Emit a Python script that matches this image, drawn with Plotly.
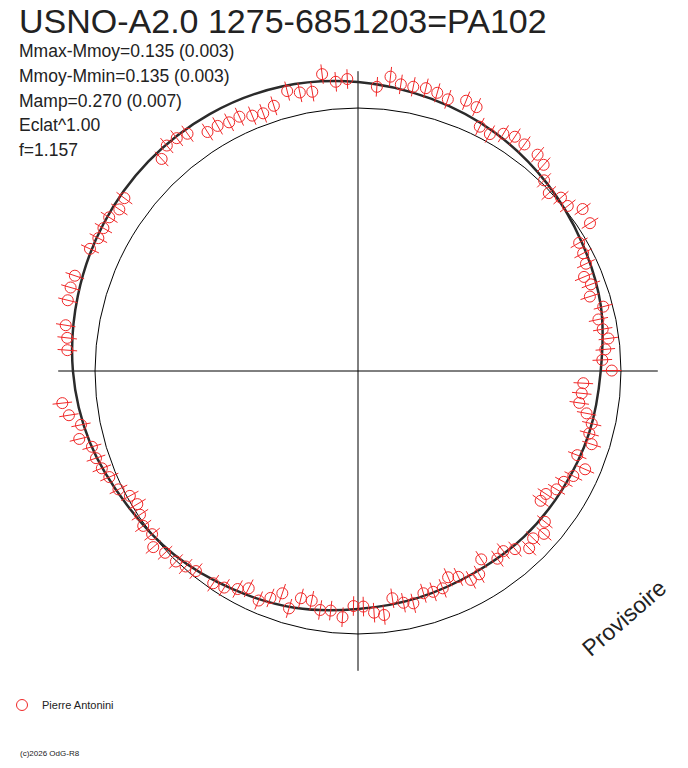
import plotly.graph_objects as go

# polar light curve of USNO-A2.0 1275-6851203 (phase clockwise from top, radius = relative flux)
title = "USNO-A2.0 1275-6851203=PA102"
stats = ["Mmax-Mmoy=0.135 (0.003)", "Mmoy-Mmin=0.135 (0.003)",
         "Mamp=0.270 (0.007)", "Eclat^1.00", "f=1.157"]
observer = "Pierre Antonini"

# observations: phase angle (deg) and relative flux
phase_deg = [0.3, 3.8, 6.3, 8.5, 11.0, 13.5, 15.9, 18.3, 21.8, 24.2,
             26.5, 29.1, 31.5, 33.8, 36.3, 39.7, 42.0, 44.3, 47.0, 49.5,
             51.8, 54.2, 57.5, 59.9, 62.4, 64.8, 67.4, 69.6, 72.2, 75.3,
             77.9, 80.3, 82.6, 85.0, 87.4, 89.9, 93.1, 95.7, 98.2, 100.5,
             102.7, 105.1, 107.4, 111.0, 113.4, 116.0, 118.3, 120.8, 123.2, 125.4,
             128.9, 131.2, 133.7, 136.0, 138.6, 141.1, 143.4, 146.8, 149.2, 151.6,
             154.0, 156.4, 158.7, 161.2, 163.6, 166.6, 168.9, 171.4, 173.9, 176.2,
             178.7, 181.1, 183.6, 186.5, 189.0, 191.4, 194.1, 196.2, 198.8, 201.1,
             203.4, 206.7, 208.9, 211.7, 214.3, 219.0, 221.4, 223.7, 226.7, 229.3,
             231.6, 234.2, 236.6, 238.9, 241.3, 243.7, 246.9, 249.2, 251.6, 254.1,
             256.3, 259.0, 261.3, 263.8, 274.1, 276.5, 278.9, 281.4, 283.7, 286.2,
             288.6, 294.5, 297.1, 299.3, 301.7, 304.1, 306.5, 309.9, 312.4, 314.7,
             317.2, 319.7, 322.1, 324.3, 327.8, 330.2, 332.6, 335.0, 337.5, 339.8,
             342.4, 345.8, 348.2, 350.7, 353.1, 355.6, 357.9]
rel_flux = [1.145, 1.083, 1.126, 1.102, 1.101, 1.106, 1.100, 1.088, 1.107, 1.100,
            1.038, 1.031, 1.058, 1.072, 1.069, 1.069, 1.055, 1.013, 0.992, 1.015,
            1.015, 1.053, 1.046, 0.972, 0.966, 0.958, 0.931, 0.945, 0.926, 0.964,
            0.935, 0.944, 0.960, 0.944, 0.930, 0.965, 0.858, 0.855, 0.850, 0.884,
            0.911, 0.911, 0.931, 0.893, 0.941, 0.911, 0.889, 0.879, 0.854, 0.852,
            0.913, 0.940, 0.921, 0.937, 0.903, 0.880, 0.889, 0.856, 0.900, 0.903,
            0.871, 0.856, 0.887, 0.887, 0.881, 0.908, 0.898, 0.874, 0.933, 0.921,
            0.896, 0.894, 0.938, 0.917, 0.920, 0.891, 0.891, 0.940, 0.893, 0.925,
            0.951, 0.925, 0.947, 0.968, 0.977, 0.979, 0.991, 1.002, 1.008, 1.027,
            0.999, 1.007, 0.993, 0.980, 0.989, 1.016, 1.028, 1.042, 1.050, 1.052,
            1.091, 1.073, 1.112, 1.131, 1.108, 1.113, 1.125, 1.153, 1.136, 1.138,
            1.136, 1.120, 1.109, 1.110, 1.112, 1.096, 1.105, 1.167, 1.143, 1.149,
            1.099, 1.124, 1.122, 1.111, 1.074, 1.074, 1.065, 1.067, 1.051, 1.044,
            1.058, 1.098, 1.082, 1.076, 1.137, 1.103, 1.111]

# fitted curve read every 15 deg
fit_deg = [0, 15, 30, 45, 60, 75, 90, 105, 120, 135, 150, 165, 180,
           195, 210, 225, 240, 255, 270, 285, 300, 315, 330, 345, 360]
fit_flux = [1.099, 1.072, 1.045, 1.013, 0.982, 0.956, 0.923, 0.910, 0.898, 0.892, 0.886, 0.892, 0.905,
            0.932, 0.957, 0.988, 1.016, 1.055, 1.084, 1.103, 1.118, 1.127, 1.128, 1.12, 1.099]

red = "#f02828"
ink = "#222222"
font = "Liberation Sans, Arial, sans-serif"
W, H = 672, 752  # page adds an 8px body margin


def px(x, y):
    # page pixel -> paper coords
    return (x - 8) / W, 1 - (y - 8) / H


fig = go.Figure()

fig.add_trace(go.Scatterpolar(theta=fit_deg, r=fit_flux, mode="lines",
                              line=dict(color="#2b2b2b", width=2.5, shape="spline"),
                              showlegend=False, hoverinfo="skip"))

# radial error ticks
fig.add_trace(go.Scatterpolar(theta=phase_deg, r=rel_flux, mode="markers",
                              marker=dict(symbol="line-ns", size=14, angle=phase_deg,
                                          line=dict(color=red, width=1)),
                              cliponaxis=False, showlegend=False, hoverinfo="skip"))

fig.add_trace(go.Scatterpolar(theta=phase_deg, r=rel_flux, mode="markers", name=observer,
                              marker=dict(symbol="circle-open", size=11, color=red,
                                          line=dict(color=red, width=1)),
                              cliponaxis=False))

x0, y1 = px(58.2, 71.2)
x1, y0 = px(657.8, 670.8)
lx, ly = px(2, 705)

fig.update_layout(
    width=W, height=H,
    margin=dict(l=0, r=0, t=0, b=0, autoexpand=False),
    paper_bgcolor="white",
    font=dict(family=font, color=ink),
    polar=dict(
        domain=dict(x=[x0, x1], y=[y0, y1]),
        bgcolor="white",
        angularaxis=dict(rotation=90, direction="clockwise", dtick=90,
                         showticklabels=False, ticks="", showline=False,
                         gridcolor="black", gridwidth=1),
        radialaxis=dict(range=[0, 1.14], tickvals=[1], showticklabels=False,
                        ticks="", showline=False, gridcolor="black", gridwidth=1),
    ),
    showlegend=True,
    legend=dict(x=lx, y=ly, xanchor="left", yanchor="middle",
                bgcolor="rgba(0,0,0,0)", font=dict(size=11, family=font, color=ink)),
)

tx, ty = px(17, 21.5)
fig.add_annotation(text=title, xref="paper", yref="paper", x=tx, y=ty,
                   xanchor="left", yanchor="middle", showarrow=False,
                   font=dict(size=34, family=font, color=ink))

for i, s in enumerate(stats):
    sx, sy = px(17, 51 + 24.8 * i)
    fig.add_annotation(text=s, xref="paper", yref="paper", x=sx, y=sy,
                       xanchor="left", yanchor="middle", showarrow=False,
                       font=dict(size=17.5, family=font, color=ink))

vx, vy = px(624, 618)
fig.add_annotation(text="Provisoire", xref="paper", yref="paper", x=vx, y=vy,
                   xanchor="center", yanchor="middle", textangle=-41, showarrow=False,
                   font=dict(size=23, family=font, color=ink))

cx, cy = px(18, 753)
fig.add_annotation(text="(c)2026 OdG-R8", xref="paper", yref="paper", x=cx, y=cy,
                   xanchor="left", yanchor="middle", showarrow=False,
                   font=dict(size=8, family=font, color=ink))

fig.write_html("out.html")
